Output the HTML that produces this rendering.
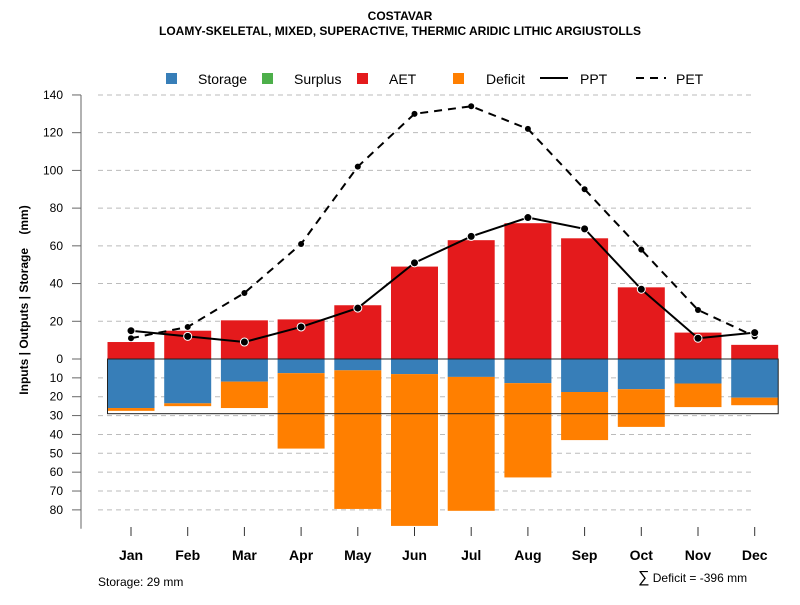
<!DOCTYPE html>
<html><head><meta charset="utf-8"><style>
body{margin:0;background:#fff;font-family:"Liberation Sans",Arial,sans-serif}
svg text{font-family:"Liberation Sans",Arial,sans-serif}
</style></head><body>
<svg id="c" width="800" height="600" xmlns="http://www.w3.org/2000/svg">
<text x="400" y="20" text-anchor="middle" font-size="12" font-weight="bold">COSTAVAR</text>
<text x="400" y="35" text-anchor="middle" font-size="12" font-weight="bold">LOAMY-SKELETAL, MIXED, SUPERACTIVE, THERMIC ARIDIC LITHIC ARGIUSTOLLS</text>
<g>
<rect x="166" y="73" width="11" height="11" fill="#377eb8"/>
<text x="198" y="84" font-size="14">Storage</text>
<rect x="262" y="73" width="11" height="11" fill="#4daf4a"/>
<text x="294" y="84" font-size="14">Surplus</text>
<rect x="357" y="73" width="11" height="11" fill="#e41a1c"/>
<text x="389" y="84" font-size="14">AET</text>
<rect x="453" y="73" width="11" height="11" fill="#ff7f00"/>
<text x="486" y="84" font-size="14">Deficit</text>
<line x1="540" y1="78" x2="568" y2="78" stroke="#000" stroke-width="2"/>
<text x="580" y="84" font-size="14">PPT</text>
<line x1="636" y1="78" x2="666" y2="78" stroke="#000" stroke-width="2" stroke-dasharray="8,6"/>
<text x="676" y="84" font-size="14">PET</text>
</g>
<text transform="translate(28,300) rotate(-90)" text-anchor="middle" font-size="12" font-weight="bold" style="white-space:pre">Inputs | Outputs | Storage    (mm)</text>
<g id="grid"></g><g id="bars"></g><g id="lines"></g><g id="axes"></g>
<text x="98" y="586" font-size="12">Storage: 29 mm</text>
<text x="638" y="582" font-size="12"><tspan font-size="16">∑</tspan> Deficit = -396 mm</text>
</svg>
<script>
const months=["Jan","Feb","Mar","Apr","May","Jun","Jul","Aug","Sep","Oct","Nov","Dec"];
const aet=[9,15,20.5,21,28.5,49,63,72,64,38,14,7.5];
const storage=[26,23.5,12,7.5,6,8,9.5,12.8,17.5,16,13,20.5];
const deficit=[1.5,1.5,14,40,73.5,80.5,71,50,25.5,20,12.5,4];
const ppt=[15,12,9,17,27,51,65,75,69,37,11,14];
const pet=[11,17,35,61,102,130,134,122,90,58,26,12];
const posTicks=[0,20,40,60,80,100,120,140];
const negTicks=[10,20,30,40,50,60,70,80];
const soilStorage=29;
const NS="http://www.w3.org/2000/svg";
const y0=359,k=1.886;
const y=v=>y0-v*k;
const x=i=>131+i*56.7;
const bw=47;
function mk(p,tag,at){const e=document.createElementNS(NS,tag);for(const a in at)e.setAttribute(a,at[a]);document.getElementById(p).appendChild(e);return e;}
[...posTicks.slice(1),...negTicks.map(v=>-v)].forEach(v=>{
 const g=mk("grid","line",{x1:98,x2:755,y1:y(v),y2:y(v),stroke:"#bbb","stroke-dasharray":"5,4"});
 
 
});
const ax=mk("axes","line",{x1:81,x2:81,y1:y(140),y2:y(-90),stroke:"#666","stroke-width":1});


posTicks.forEach(v=>{
 mk("axes","line",{x1:72,x2:81,y1:y(v),y2:y(v),stroke:"#666"});
 const t=mk("axes","text",{x:63,y:y(v)+4,"text-anchor":"end","font-size":12});t.textContent=v;
 
 
});
negTicks.forEach(v=>{
 mk("axes","line",{x1:72,x2:81,y1:y(-v),y2:y(-v),stroke:"#666"});
 const t=mk("axes","text",{x:63,y:y(-v)+4,"text-anchor":"end","font-size":12});t.textContent=v;
 
 
});
months.forEach((m,i)=>{
 mk("axes","line",{x1:x(i),x2:x(i),y1:527,y2:536,stroke:"#333"});
 const t=mk("axes","text",{x:x(i),y:560,"text-anchor":"middle","font-size":14,"font-weight":"bold"});t.textContent=m;
 
 
 const r=mk("bars","rect",{x:x(i)-bw/2,y:y(aet[i]),width:bw,height:aet[i]*k,fill:"#e41a1c"});
 
 
 const s=mk("bars","rect",{x:x(i)-bw/2,y:y0,width:bw,height:storage[i]*k,fill:"#377eb8"});
 
 
 const d=mk("bars","rect",{x:x(i)-bw/2,y:y(-storage[i]),width:bw,height:deficit[i]*k,fill:"#ff7f00"});
 
 
});
const box=mk("bars","rect",{x:x(0)-bw/2,y:y0,width:x(11)+bw/2-(x(0)-bw/2),height:soilStorage*k,fill:"none",stroke:"#222","stroke-width":1});


function series(arr,dash,name,ring){
 const p=mk("lines","polyline",{points:arr.map((v,i)=>x(i)+","+y(v)).join(" "),fill:"none",stroke:"#000","stroke-width":2,"stroke-dasharray":dash});
 
 
 arr.forEach((v,i)=>{
  const c=mk("lines","circle",{cx:x(i),cy:y(v),r:ring?4:3,fill:"#000",stroke:ring?"#fff":"none","stroke-width":1});
  
  
 });
}
series(pet,"8,6","pet",false);
series(ppt,"none","ppt",true);
</script>
</body></html>
